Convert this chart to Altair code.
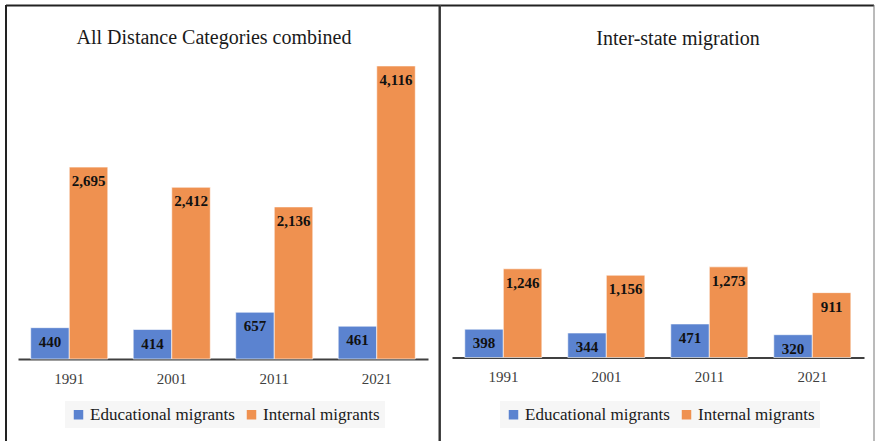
import altair as alt
import pandas as pd

# Census rounds and the two migrant series
years = ["1991", "2001", "2011", "2021"]
series = ["Educational migrants", "Internal migrants"]

# All distance categories combined
all_educational = [440, 414, 657, 461]
all_internal = [2695, 2412, 2136, 4116]

# Inter-state migration
interstate_educational = [398, 344, 471, 320]
interstate_internal = [1246, 1156, 1273, 911]

BLUE = "#5B83D0"
ORANGE = "#EF9150"
SERIF = "Liberation Serif"
HEIGHT = 443
PX_PER_UNIT = 0.0712
Y_MAX = 4200


def long_table(edu, internal):
    rows = []
    for i, yr in enumerate(years):
        rows.append({"year": yr, "series": series[0], "value": edu[i]})
        rows.append({"year": yr, "series": series[1], "value": internal[i]})
    return pd.DataFrame(rows)


def frame_rule(x1, x2, y1, y2, color, width):
    return alt.Chart(pd.DataFrame({"k": [0]})).mark_rule(
        color=color, strokeWidth=width
    ).encode(x=alt.value(x1), x2=alt.value(x2), y=alt.value(y1), y2=alt.value(y2))


def panel(title, edu, internal, width, x_range, baseline, title_x, title_y,
          legend_x, frame):
    df = long_table(edu, internal)
    x = alt.X(
        "year:N", sort=years, title=None,
        scale=alt.Scale(domain=years, range=x_range,
                        paddingInner=0.248, paddingOuter=0.124),
        axis=alt.Axis(orient="bottom", offset=baseline - HEIGHT,
                      ticks=False, grid=False, labelAngle=0),
    )
    xo = alt.XOffset("series:N", sort=series,
                     scale=alt.Scale(domain=series, paddingInner=0,
                                     paddingOuter=0))
    y = alt.Y("value:Q", axis=None,
              scale=alt.Scale(domain=[0, Y_MAX],
                              range=[baseline, baseline - PX_PER_UNIT * Y_MAX],
                              nice=False, zero=True))
    color = alt.Color(
        "series:N",
        scale=alt.Scale(domain=series, range=[BLUE, ORANGE]),
        legend=alt.Legend(title=None, orient="none", legendX=legend_x,
                          legendY=401, direction="horizontal"),
    )
    bars = alt.Chart(df).mark_bar(
        stroke="white", strokeWidth=1, strokeOpacity=0.6
    ).encode(x=x, xOffset=xo, y=y, color=color)
    labels = alt.Chart(df).mark_text(
        font=SERIF, fontSize=15, fontWeight="bold", color="#111111",
        baseline="alphabetic", dy=19
    ).encode(x=x, xOffset=xo, y=y, text=alt.Text("value:Q", format=",d"))
    heading = alt.Chart(pd.DataFrame({"label": [title]})).mark_text(
        font=SERIF, fontSize=20, color="#1a1a1a", align="center",
        baseline="alphabetic"
    ).encode(x=alt.value(title_x), y=alt.value(title_y), text="label:N")
    rules = [frame_rule(*f) for f in frame]
    return alt.layer(bars, labels, heading, *rules).properties(
        width=width, height=HEIGHT
    )


left = panel(
    "All Distance Categories combined", all_educational, all_internal,
    width=440, x_range=[18, 428], baseline=359, title_x=214, title_y=44,
    legend_x=65,
    frame=[
        (6, 440, 5.5, 5.5, "#222222", 2),
        (6, 6, 5, 441, "#222222", 2),
        (439.5, 439.5, 5, 441, "#333333", 2),
    ],
)

right = panel(
    "Inter-state migration", interstate_educational, interstate_internal,
    width=435, x_range=[12, 424], baseline=357.5, title_x=238, title_y=45,
    legend_x=60,
    frame=[
        (0, 434, 5.5, 5.5, "#222222", 2),
        (0.5, 0.5, 5, 441, "#444444", 1),
        (434, 434, 5, 441, "#777777", 1),
    ],
)

chart = alt.hconcat(left, right, spacing=0, bounds="flush").resolve_scale(
    x="independent", y="independent", color="independent"
).resolve_legend(color="independent").configure_view(
    stroke=None
).configure_axis(
    domainColor="#404040", domainWidth=2, labelFont=SERIF, labelFontSize=15,
    labelColor="#404040", labelPadding=12
).configure_legend(
    symbolType="square", symbolSize=90, symbolStrokeWidth=0,
    labelFont=SERIF, labelFontSize=17, labelColor="#1a1a1a",
    fillColor="#f6f6f6", padding=5, columnPadding=8, labelOffset=3,
    labelLimit=300
).properties(padding=0, background="white")

chart.save("out.html", embed_options={"renderer": "svg", "actions": False})
